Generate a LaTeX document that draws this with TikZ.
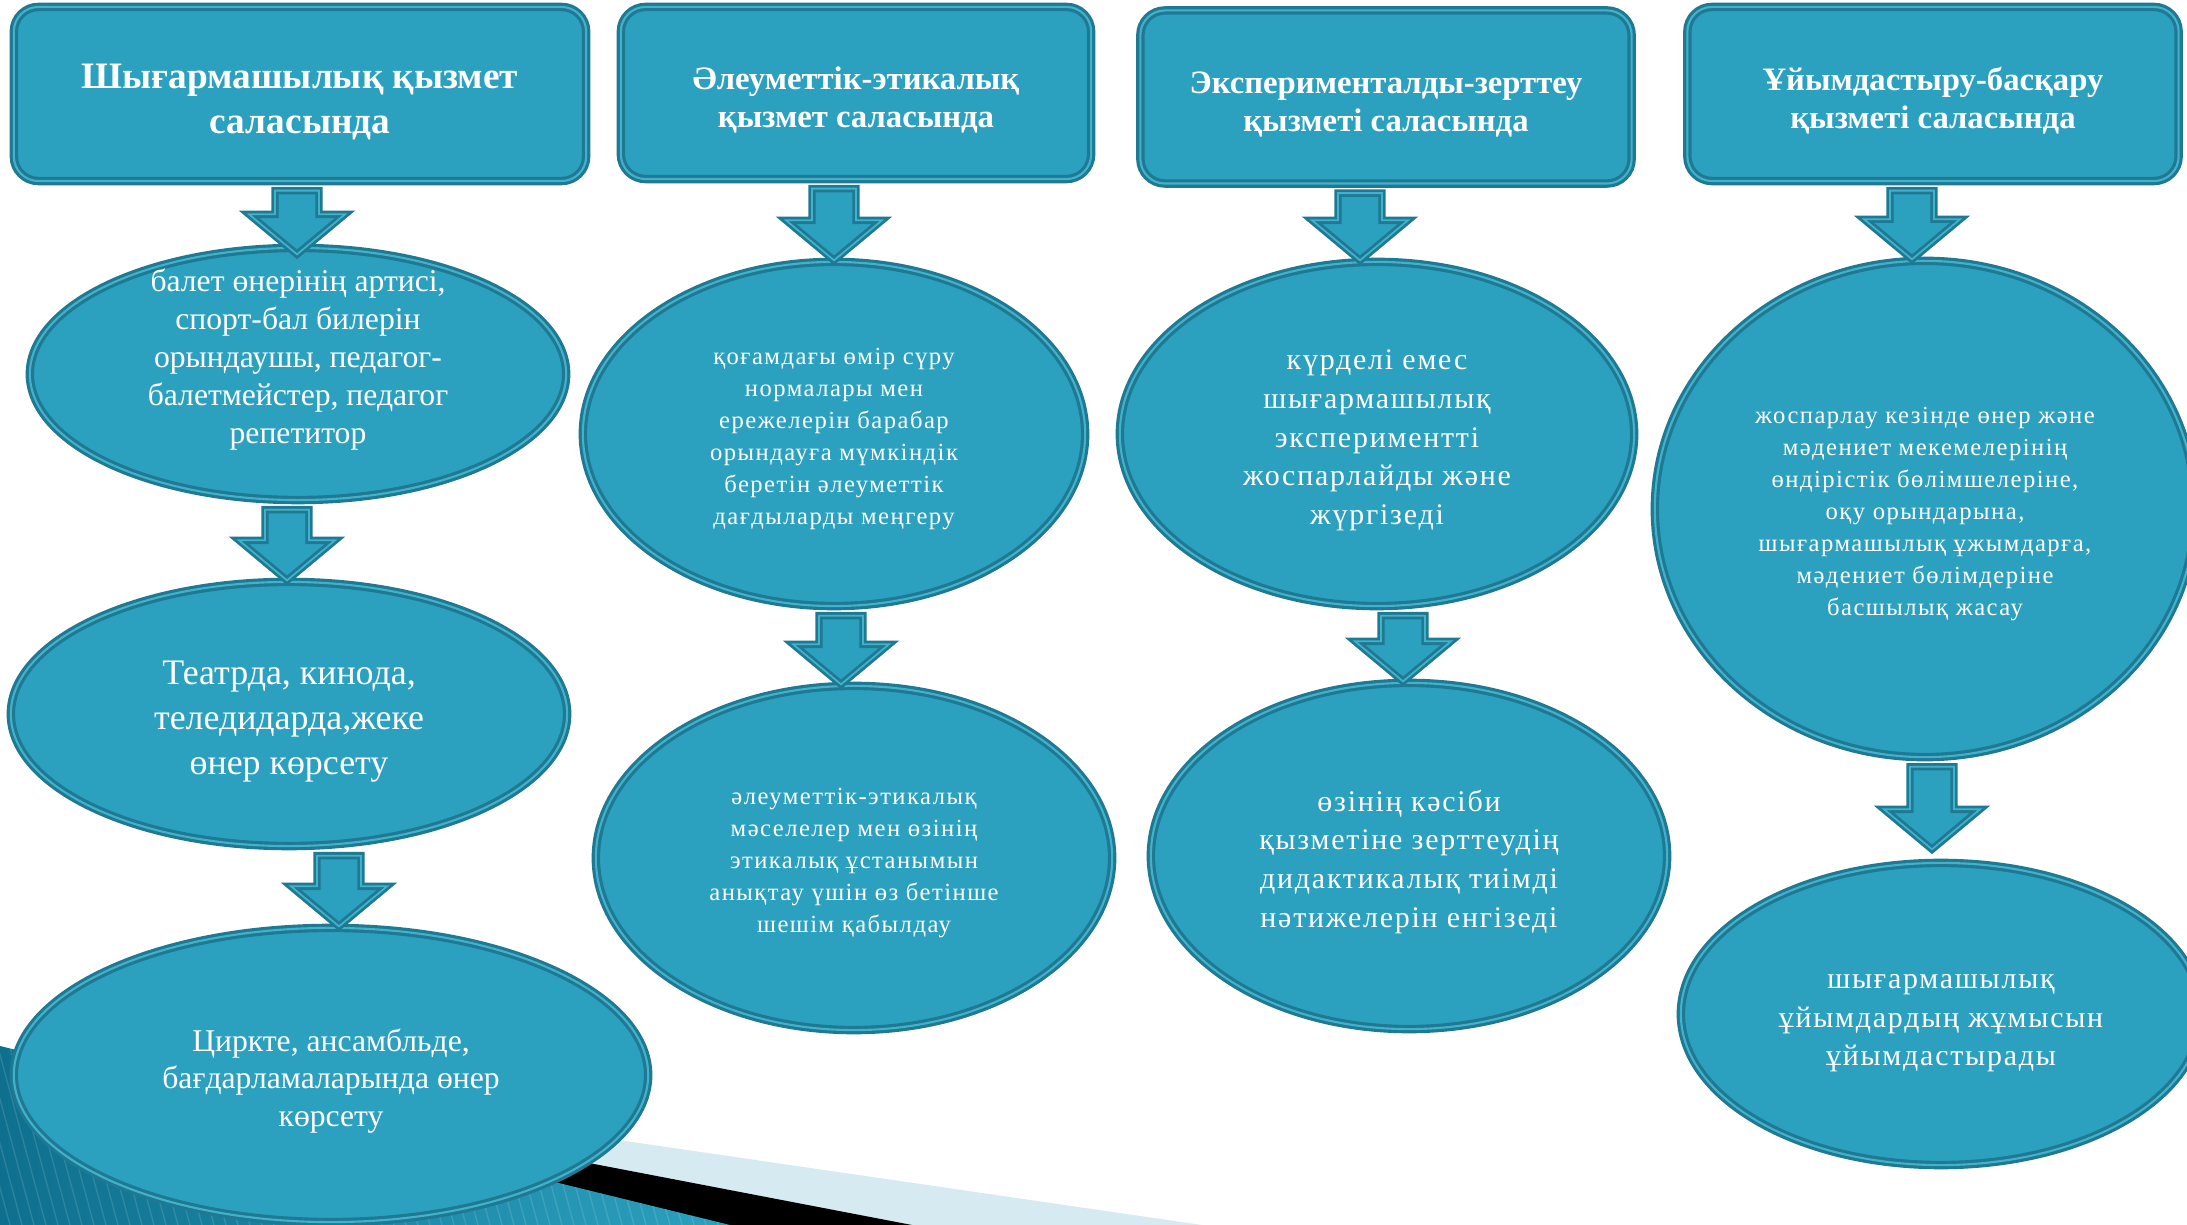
\documentclass[tikz,border=0pt]{standalone}
\usepackage{fontspec}
\setmainfont{Liberation Serif}
\newfontfamily\spacedfont[LetterSpace=6]{Liberation Serif}
\usetikzlibrary{shapes.geometric, calc}

\definecolor{flowteal}{RGB}{44,161,191}
\definecolor{flowdark}{RGB}{31,121,146}
\definecolor{flowmid}{RGB}{66,178,204}
\definecolor{bandlight}{RGB}{214,234,241}
\definecolor{banddark}{RGB}{14,112,142}

% a little room above the first line, as in the slide
\newcommand{\topgap}{\rule{0pt}{1.1em}}

\tikzset{
  box/.style={rounded corners=7pt, fill=flowteal, draw=flowdark, line width=0.9pt,
    double=flowmid, double distance=0.6pt, text=white, align=center},
  oval/.style={ellipse, fill=flowteal, draw=flowdark, line width=0.9pt,
    double=flowmid, double distance=0.6pt, text=white, align=center, inner sep=0pt},
  ovaltext/.style={text=white, align=center, inner sep=0pt},
  blockarrow/.style={fill=flowteal, draw=flowdark, line width=0.8pt,
    double=flowmid, double distance=0.5pt},
  headbig/.style={font=\fontsize{10.6}{12.8}\selectfont\bfseries},
  head/.style={font=\fontsize{9.3}{10.8}\selectfont\bfseries},
  plain/.style={font=\fontsize{9}{10.8}\selectfont},
  large/.style={font=\fontsize{10.2}{12.8}\selectfont},
  small/.style={font=\fontsize{7}{9.1}\selectfont\spacedfont},
  medium/.style={font=\fontsize{8.5}{11}\selectfont\spacedfont}
}

% block arrow from one node to the next: #2 from, #3 to, #4 x centre, #1 tip overlap
\newcommand{\flowarrow}[4][0]{%
  \coordinate (top) at ($(#4,0 |- #2.south)+(0,8)$);
  \coordinate (tip) at ($(#4,0 |- #3.north)+(0,#1)$);
  \coordinate (neck) at ($(tip)+(0,-40)$);
  \draw[blockarrow] ($(top)+(-22,0)$) -- ($(top)+(22,0)$) -- ($(neck)+(22,0)$)
    -- ($(neck)+(48,0)$) -- (tip) -- ($(neck)+(-48,0)$) -- ($(neck)+(-22,0)$) -- cycle;}

\begin{document}
\begin{tikzpicture}[x=0.01cm, y=-0.01cm]
  \useasboundingbox (0,0) rectangle (2187,1225);

  % bottom band
  \fill[bandlight] (0,1050) -- (1202,1225) -- (0,1225) -- cycle;
  \fill[black] (0,1050) -- (912,1225) -- (0,1225) -- cycle;
  \begin{scope}
    \clip (0,1046) -- (730,1225) -- (0,1225) -- cycle;
    \shade[left color=banddark, right color=flowteal] (0,1040) rectangle (740,1225);
    \foreach \i in {-100,-88,...,740}
      \draw[white, opacity=0.12, line width=0.4pt] (\i,1040) -- (\i+50,1225);
  \end{scope}

  % headers
  \node[box, headbig, minimum width=5.72cm, minimum height=1.74cm] (h1) at (300,94)
    {\topgap Шығармашылық қызмет\\саласында};
  \node[box, head, minimum width=4.70cm, minimum height=1.72cm] (h2) at (856,93)
    {\topgap Әлеуметтік-этикалық\\қызмет саласында};
  \node[box, head, minimum width=4.91cm, minimum height=1.73cm] (h3) at (1386,97)
    {\topgap Эксперименталды-зерттеу\\қызметі саласында};
  \node[box, head, minimum width=4.91cm, minimum height=1.74cm] (h4) at (1933,94)
    {\topgap Ұйымдастыру-басқару\\қызметі саласында};

  % column 1
  \node[oval, minimum width=5.36cm, minimum height=2.52cm] (e1a) at (298,374) {};
  \node[ovaltext, plain] (e1a-text) at (298,360)
    {балет өнерінің артисі,\\спорт-бал билерін\\орындаушы, педагог-\\балетмейстер, педагог\\репетитор};
  \node[oval, large, minimum width=5.56cm, minimum height=2.64cm] (e1b) at (289,714)
    {\topgap Театрда, кинода,\\теледидарда,жеке\\өнер көрсету};
  \node[oval, plain, minimum width=6.34cm, minimum height=2.94cm] (e1c) at (331,1075)
    {\topgap Циркте, ансамбльде,\\бағдарламаларында өнер\\көрсету};

  % column 2
  \node[oval, small, minimum width=5.02cm, minimum height=3.44cm] (e2a) at (834,434)
    {\topgap қоғамдағы өмір сүру\\нормалары мен\\ережелерін барабар\\орындауға мүмкіндік\\беретін әлеуметтік\\дағдыларды меңгеру};
  \node[oval, small, minimum width=5.16cm, minimum height=3.44cm] (e2b) at (854,858)
    {\topgap әлеуметтік-этикалық\\мәселелер мен өзінің\\этикалық ұстанымын\\анықтау үшін өз бетінше\\шешім қабылдау};

  % column 3
  \node[oval, medium, minimum width=5.14cm, minimum height=3.44cm] (e3a) at (1377,434)
    {\topgap күрделі емес\\шығармашылық\\экспериментті\\жоспарлайды және\\жүргізеді};
  \node[oval, medium, minimum width=5.16cm, minimum height=3.46cm] (e3b) at (1409,856)
    {\topgap өзінің кәсіби\\қызметіне зерттеудің\\дидактикалық тиімді\\нәтижелерін енгізеді};

  % column 4
  \node[oval, small, minimum width=5.40cm, minimum height=4.96cm] (e4a) at (1925,509)
    {\topgap жоспарлау кезінде өнер және\\мәдениет мекемелерінің\\өндірістік бөлімшелеріне,\\оқу орындарына,\\шығармашылық ұжымдарға,\\мәдениет бөлімдеріне\\басшылық жасау};
  \node[oval, medium, minimum width=5.20cm, minimum height=3.02cm] (e4b) at (1941,1014)
    {\topgap шығармашылық\\ұйымдардың жұмысын\\ұйымдастырады};

  % arrows
  \flowarrow[8]{h1}{e1a}{297}
  \flowarrow{e1a}{e1b}{287}
  \flowarrow{e1b}{e1c}{339}
  \flowarrow{h2}{e2a}{834}
  \flowarrow{e2a}{e2b}{841}
  \flowarrow{h3}{e3a}{1360}
  \flowarrow{e3a}{e3b}{1403}
  \flowarrow{h4}{e4a}{1912}
  \flowarrow[-12]{e4a}{e4b}{1932}
\end{tikzpicture}
\end{document}
